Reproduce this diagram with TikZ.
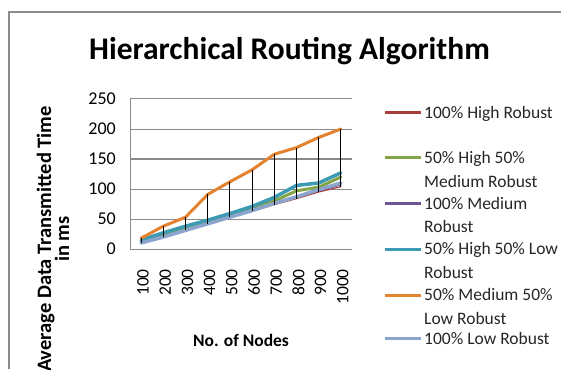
\documentclass[tikz,border=0pt]{standalone}
\usepackage{fontspec}
\setmainfont{Carlito}
\definecolor{frameC}{HTML}{8C8C8C}
\definecolor{gridC}{HTML}{8A8A8A}
\definecolor{sRed}{HTML}{A83C3A}
\definecolor{sGreen}{HTML}{84A448}
\definecolor{sPurple}{HTML}{6E5595}
\definecolor{sTeal}{HTML}{3C9AB2}
\definecolor{sOrange}{HTML}{E3822F}
\definecolor{sLblue}{HTML}{8CA5CE}
\tikzset{
  gridline/.style={draw=gridC, line width=1pt},
  series/.style={line join=round, line cap=round},
  hiloline/.style={draw=black, line width=1.1pt},
  keyline/.style={line width=3pt},
  legt/.style={anchor=base west, inner sep=0pt, text=black!85, font=\fontsize{17.5}{17.5}\selectfont},
  ytick/.style={anchor=east, inner sep=0pt, font=\fontsize{18}{18}\selectfont},
  xtick/.style={anchor=east, rotate=90, inner sep=0pt, font=\fontsize{17.5}{17.5}\selectfont},
}
\begin{document}
\begin{tikzpicture}[x=1pt,y=-1pt]
\clip (0,0) rectangle (561,369);
\fill[white] (0,0) rectangle (561,369);
% frame
\draw[frameC, line width=1.3pt] (9,369) -- (9,12) -- (561,12);
% title
\node[anchor=base, inner sep=0pt, font=\bfseries\fontsize{31.5}{31.5}\selectfont] (title) at (289.5,59.5) {Hierarchical Routing Algorithm};
% grid
\foreach \v in {0,50,100,200,250} {
  \draw[gridline] (130,{249-0.6*\v}) -- (352,{249-0.6*\v});
  \node[ytick] (y\v) at (116,{249-0.6*\v}) {\v};
}
\draw[gridline, line width=1.8pt] (130,159) -- (352,159);
\node[ytick] (y150) at (116,159) {150};
\draw[gridline] (130,99) -- (130,249);
% x labels
\foreach \n [count=\i from 0] in {100,200,300,400,500,600,700,800,900,1000} {
  \node[xtick] (x\n) at ({143+22.2*\i},269) {\n};
}
% axis titles
\node[rotate=90, align=center, inner sep=0pt, font=\bfseries\fontsize{20.5}{18}\selectfont] (ytitle) at (53,239) {Average Data Transmitted Time\\in ms};
\node[anchor=base, inner sep=0pt, font=\bfseries\fontsize{17.5}{17.5}\selectfont] (xtitle) at (241,346) {No. of Nodes};
% series
\begin{scope}[shift={(141.1,249)}, x=22.2pt, y=0.6pt]
\draw[series, sRed, line width=1.2pt] (0,10) -- (1,20) -- (2,31) -- (3,42) -- (4,53) -- (5,63) -- (6,74) -- (7,84) -- (8,95) -- (9,104);
\draw[series, sGreen, line width=3pt] (0,14) -- (1,25) -- (2,36) -- (3,46) -- (4,57) -- (5,68) -- (6,80) -- (7,97) -- (8,103) -- (9,120);
\draw[series, sPurple, line width=1.5pt] (0,10) -- (1,20) -- (2,31) -- (3,42) -- (4,53) -- (5,64) -- (6,75) -- (7,86) -- (8,97) -- (9,107);
\draw[series, sTeal, line width=3.5pt] (0,15) -- (1,27) -- (2,38) -- (3,48) -- (4,59) -- (5,71) -- (6,86) -- (7,106) -- (8,110) -- (9,127);
\draw[series, sOrange, line width=3pt] (0,18) -- (1,38) -- (2,53) -- (3,91) -- (4,112) -- (5,132) -- (6,158) -- (7,169) -- (8,186) -- (9,200);
\draw[series, sLblue, line width=3.5pt] (0,10) -- (1,20) -- (2,31) -- (3,42) -- (4,53) -- (5,64) -- (6,76) -- (7,87) -- (8,99) -- (9,110);
\foreach \i/\hi/\lo in {0/18/10,1/38/20,2/53/31,3/91/42,4/112/53,5/132/63,6/158/74,7/169/84,8/186/95,9/200/104} {
  \draw[hiloline] (\i,\hi) -- (\i,\lo);
}
\end{scope}
% legend
\draw[keyline, sRed] (385,112.3) -- (421,112.3);
\node[legt] (l1) at (424,118) {100\% High Robust};
\draw[keyline, sGreen] (385,157.7) -- (421,157.7);
\node[legt] (l2a) at (424,163) {50\% High 50\%};
\node[legt] (l2b) at (424,187) {Medium Robust};
\draw[keyline, sPurple] (385,203.3) -- (421,203.3);
\node[legt] (l3a) at (424,209) {100\% Medium};
\node[legt] (l3b) at (424,232) {Robust};
\draw[keyline, sTeal] (385,249) -- (421,249);
\node[legt] (l4a) at (424,254.5) {50\% High 50\% Low};
\node[legt] (l4b) at (424,278.5) {Robust};
\draw[keyline, sOrange] (385,295) -- (421,295);
\node[legt] (l5a) at (424,300.5) {50\% Medium 50\%};
\node[legt] (l5b) at (424,324) {Low Robust};
\draw[keyline, sLblue] (385,338.3) -- (421,338.3);
\node[legt] (l6) at (424,344) {100\% Low Robust};
\end{tikzpicture}
\end{document}
